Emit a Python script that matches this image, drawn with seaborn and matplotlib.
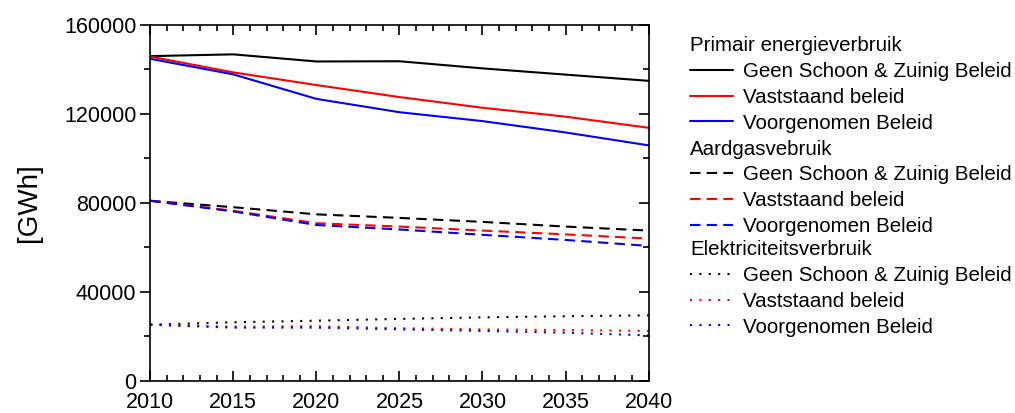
import matplotlib
matplotlib.use("Agg")
import matplotlib.pyplot as plt
from matplotlib.lines import Line2D
from matplotlib.ticker import MultipleLocator
import seaborn as sns
import pandas as pd

years = [2010, 2015, 2020, 2025, 2030, 2035, 2040]

scenarios = ["Geen Schoon & Zuinig Beleid", "Vaststaand beleid", "Voorgenomen Beleid"]
groups = ["Primair energieverbruik", "Aardgasvebruik", "Elektriciteitsverbruik"]

# Primair energieverbruik [GWh]
primair_geen = [146000, 146800, 143600, 143700, 140500, 137700, 134900]
primair_vast = [145800, 138700, 133000, 127600, 122800, 118800, 113800]
primair_voorg = [144800, 137800, 126800, 120800, 116800, 111700, 105900]

# Aardgasverbruik [GWh]
gas_geen = [81000, 78100, 74900, 73300, 71500, 69400, 67600]
gas_vast = [81000, 76500, 70900, 69400, 67600, 65900, 64000]
gas_voorg = [81000, 76200, 70100, 68100, 65700, 63400, 60700]

# Elektriciteitsverbruik [GWh]
elek_geen = [25300, 26400, 27100, 27900, 28600, 29100, 29500]
elek_vast = [25300, 24400, 24600, 23700, 23200, 22900, 22500]
elek_voorg = [25300, 24000, 24000, 23200, 22500, 21700, 20500]

series = {
    (groups[0], scenarios[0]): primair_geen,
    (groups[0], scenarios[1]): primair_vast,
    (groups[0], scenarios[2]): primair_voorg,
    (groups[1], scenarios[0]): gas_geen,
    (groups[1], scenarios[1]): gas_vast,
    (groups[1], scenarios[2]): gas_voorg,
    (groups[2], scenarios[0]): elek_geen,
    (groups[2], scenarios[1]): elek_vast,
    (groups[2], scenarios[2]): elek_voorg,
}

rows = []
for (grp, scen), vals in series.items():
    for yr, v in zip(years, vals):
        rows.append({"jaar": yr, "GWh": v, "soort": grp, "scenario": scen})
df = pd.DataFrame(rows)

colors = {scenarios[0]: "#000000", scenarios[1]: "#ff0000", scenarios[2]: "#0000ff"}
dash_styles = {groups[0]: "", groups[1]: (5, 3), groups[2]: (1, 3.5)}

sns.set_theme(style="ticks")
plt.rcParams["font.family"] = ["Liberation Sans", "DejaVu Sans"]
plt.rcParams.update({
    "text.color": "black",
    "axes.labelcolor": "black",
    "xtick.color": "black",
    "ytick.color": "black",
    "axes.edgecolor": "black",
})

fig = plt.figure(figsize=(10.15, 4.13), dpi=100)
ax = fig.add_axes([0.148, 0.0775, 0.491, 0.862])

sns.lineplot(data=df, x="jaar", y="GWh", hue="scenario", style="soort",
             palette=colors, dashes=dash_styles, hue_order=scenarios,
             style_order=groups, linewidth=1.5, legend=False, ax=ax)

ax.set_xlim(2010, 2040)
ax.set_ylim(0, 160000)
ax.xaxis.set_major_locator(MultipleLocator(5))
ax.xaxis.set_minor_locator(MultipleLocator(1))
ax.yaxis.set_major_locator(MultipleLocator(40000))
ax.yaxis.set_minor_locator(MultipleLocator(20000))
ax.set_xlabel("")
ax.set_ylabel("[GWh]", fontsize=20, labelpad=16)

for s in ax.spines.values():
    s.set_visible(True)
    s.set_linewidth(1.2)
    s.set_color("black")

ax.tick_params(axis="x", which="both", direction="in", top=True, bottom=True,
               labelsize=15.5, color="black", width=1.2, pad=8)
ax.tick_params(axis="x", which="major", length=7)
ax.tick_params(axis="x", which="minor", length=4.5)
ax.tick_params(axis="y", which="both", direction="out", left=True, right=False,
               labelsize=15.5, color="black", width=1.2, pad=3)
ax.tick_params(axis="y", which="major", length=7)
ax.tick_params(axis="y", which="minor", length=4.5)

# inward ticks on the right-hand spine
axr = ax.twinx()
axr.set_ylim(ax.get_ylim())
axr.yaxis.set_major_locator(MultipleLocator(40000))
axr.yaxis.set_minor_locator(MultipleLocator(20000))
axr.tick_params(axis="y", which="both", direction="in", right=True,
                labelright=False, color="black", width=1.2)
axr.tick_params(axis="y", which="major", length=7)
axr.tick_params(axis="y", which="minor", length=4.5)
for s in axr.spines.values():
    s.set_visible(False)

# grouped legend: one block per quantity, each with its own title
legend_tops = [0.937, 0.687, 0.443]
for grp, top in zip(groups, legend_tops):
    handles = [Line2D([], [], color=colors[sc], linewidth=1.5,
                      linestyle=(0, dash_styles[grp]) if dash_styles[grp] else "-")
               for sc in scenarios]
    fig.legend(handles, scenarios, title=grp, loc="upper left",
               bbox_to_anchor=(0.670, top), frameon=False, fontsize=14.8,
               title_fontsize=14.8, alignment="left", borderpad=0,
               handlelength=2.1, handletextpad=0.45, labelspacing=0.33)

fig.savefig("out.png", dpi=100)
